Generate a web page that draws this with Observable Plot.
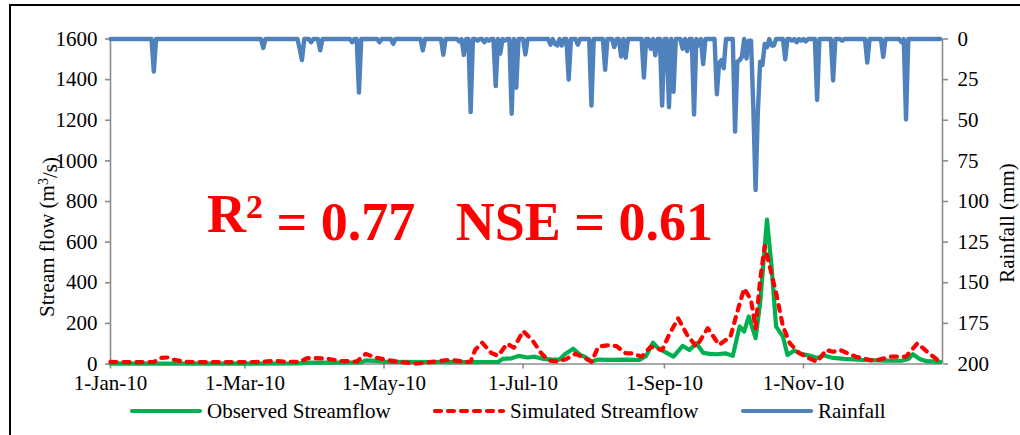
<!DOCTYPE html>
<html>
<head>
<meta charset="utf-8">
<script src="https://cdn.jsdelivr.net/npm/d3@7"></script>
<script src="https://cdn.jsdelivr.net/npm/@observablehq/plot@0.6"></script>
<style>
  html, body { margin: 0; padding: 0; background: #fff; }
  #chart { width: 1020px; height: 435px; }
</style>
</head>
<body>
<div id="chart"></div>
<script>
// Daily hydrology for 2010. Days are counted from 1 January (day 0).

// Observed streamflow (m³/s)
const obsDays = [0, 30, 60, 83, 86, 100, 110, 112, 117, 120, 150, 170, 172, 176, 179, 183, 186, 190, 194, 197,
  199, 203, 206, 208, 211, 214, 220, 226, 232, 235, 238, 240, 243, 247, 251, 254, 257, 260, 263, 266,
  270, 273, 276, 278, 280, 283, 285, 288, 290, 292, 295, 297, 300, 303, 307, 310, 313, 317, 322, 330,
  340, 347, 350, 352, 355, 358, 364];
const obsFlow = [2, 2, 2, 3, 7, 7, 8, 18, 15, 10, 9, 10, 25, 28, 40, 32, 36, 25, 22, 22,
  45, 75, 45, 36, 12, 22, 20, 22, 20, 40, 105, 80, 61, 36, 89, 69, 102, 55, 50, 48,
  52, 40, 185, 160, 234, 127, 300, 711, 480, 184, 135, 44, 66, 50, 40, 30, 42, 30, 25, 20,
  17, 16, 25, 48, 25, 14, 10];

// Simulated streamflow (m³/s)
const simDays = [0, 10, 19, 22, 25, 28, 33, 50, 65, 72, 76, 83, 86, 89, 95, 101, 108, 112, 116, 121,
  127, 134, 140, 148, 151, 156, 158, 160, 163, 167, 170, 174, 177, 181, 185, 189, 192, 196, 200, 204,
  208, 211, 214, 218, 222, 226, 229, 233, 237, 242, 245, 249, 253, 257, 262, 267, 272, 275, 278, 281,
  283, 285, 287, 289, 292, 295, 298, 302, 306, 310, 314, 317, 320, 327, 335, 342, 349, 354, 359, 364];
const simFlow = [10, 9, 10, 30, 32, 20, 10, 9, 10, 15, 12, 10, 28, 30, 26, 15, 12, 50, 33, 20,
  10, 2, 9, 20, 18, 10, 12, 70, 105, 55, 40, 100, 80, 162, 118, 53, 18, 12, 25, 50,
  30, 11, 85, 92, 88, 53, 52, 36, 85, 68, 143, 225, 143, 85, 176, 94, 135, 258, 372, 315,
  176, 415, 580, 490, 350, 185, 102, 55, 30, 11, 69, 60, 69, 36, 15, 36, 36, 102, 53, 10];

// Rainy days (mm); every day not listed is dry
const rainDays = [19, 67, 83, 84, 88, 92, 106, 109, 118, 124, 137, 146, 153, 155, 158, 161, 164, 166, 169, 171,
  173, 176, 178, 182, 193, 195, 196, 198, 201, 205, 211, 217, 221, 224, 226, 234, 237, 239, 242, 245,
  247, 251, 253, 256, 258, 260, 266, 267, 268, 269, 274, 275, 276, 277, 279, 280, 281, 282, 283, 284,
  285, 286, 287, 288, 290, 291, 296, 299, 301, 303, 305, 310, 317, 321, 332, 339, 347, 349];
const rainMm = [20, 5.5, 6, 13, 2, 7, 2, 33, 2, 3, 7, 9.7, 1.5, 9.8, 45, 1, 2, 1, 29, 9,
  1, 46, 30, 9.5, 3.5, 3, 4, 4, 25, 3.5, 41, 19, 5, 10.8, 11.5, 23.7, 6, 10, 41, 42,
  32.5, 6, 7.5, 46.5, 4, 15.4, 34, 15, 13, 18, 57, 14, 13, 11, 12, 1, 1, 42, 93, 45,
  14, 16, 3, 5, 4, 4, 12.5, 1, 2, 1, 1.5, 37.5, 25.5, 1, 14.5, 11, 2, 49.5];

// Axis ticks
const dateTicks = ["2010-01-01", "2010-03-01", "2010-05-01", "2010-07-01", "2010-09-01", "2010-11-01"];
const dateTickLabels = ["1-Jan-10", "1-Mar-10", "1-May-10", "1-Jul-10", "1-Sep-10", "1-Nov-10"];
const flowTicks = [0, 200, 400, 600, 800, 1000, 1200, 1400, 1600];
const rainTicks = [0, 25, 50, 75, 100, 125, 150, 175, 200];

// ---- build tables ----
const dayToDate = d => new Date(Date.UTC(2010, 0, 1 + d));
const observed = obsDays.map((d, i) => ({date: dayToDate(d), flow: obsFlow[i]}));
const simulated = simDays.map((d, i) => ({date: dayToDate(d), flow: simFlow[i]}));
const rainByDay = new Map(rainDays.map((d, i) => [d, rainMm[i]]));
const rainfall = d3.range(0, 365).map(d => ({date: dayToDate(d), mm: rainByDay.get(d) ?? 0}));

// Rainfall is hung from the top on an inverted secondary axis (0 at top, 200 at bottom)
const flowMax = 1600, rainMax = 200;
const rainToFlow = mm => flowMax - mm * (flowMax / rainMax);
const rainTickPos = rainTicks.map(rainToFlow);

const tickDates = dateTicks.map(s => new Date(s + "T00:00:00Z"));
const tickLabelOf = new Map(tickDates.map((d, i) => [+d, dateTickLabels[i]]));

const axisGray = "#8c8c8c";
const serif = "'Liberation Serif', 'Times New Roman', serif";
const x0 = new Date(Date.UTC(2010, 0, 1)), x1 = new Date(Date.UTC(2011, 0, 1));

const chart = Plot.plot({
  width: 1020,
  height: 435,
  marginLeft: 110,
  marginRight: 78,
  marginTop: 38.5,
  marginBottom: 71.5,
  style: {fontFamily: serif, fontSize: "21px", background: "#fff", color: "#000", overflow: "visible"},
  x: {type: "utc", domain: [x0, x1]},
  y: {domain: [0, flowMax]},
  marks: [
    // axis lines
    Plot.ruleY([0], {stroke: axisGray, strokeWidth: 1.6}),
    Plot.ruleX([x0], {y1: 0, y2: flowMax, stroke: axisGray, strokeWidth: 1.6}),
    Plot.ruleX([x1], {y1: 0, y2: flowMax, stroke: axisGray, strokeWidth: 1.6}),
    // axes
    Plot.axisY(flowTicks, {anchor: "left", tickSize: 5, tickPadding: 8, stroke: axisGray, strokeWidth: 1.6,
      fill: "#000", label: null, tickFormat: d => String(d)}),
    Plot.axisY(rainTickPos, {anchor: "right", tickSize: 5, tickPadding: 10, stroke: axisGray, strokeWidth: 1.6,
      fill: "#000", label: null, tickFormat: (d, i) => String(rainTicks[i])}),
    Plot.axisX(tickDates, {anchor: "bottom", tickSize: 5, tickPadding: 6, stroke: axisGray, strokeWidth: 1.6,
      fill: "#000", label: null, tickFormat: d => tickLabelOf.get(+d)}),
    // series
    Plot.line(observed, {x: "date", y: "flow", stroke: "#00B050", strokeWidth: 4.2,
      strokeLinejoin: "round", strokeLinecap: "round"}),
    Plot.line(simulated, {x: "date", y: "flow", stroke: "#FF0000", strokeWidth: 4.2,
      strokeDasharray: "6,7", strokeLinejoin: "round", strokeLinecap: "round"}),
    Plot.line(rainfall, {x: "date", y: d => rainToFlow(d.mm), stroke: "#4F81BD", strokeWidth: 4.4,
      strokeLinejoin: "round", strokeLinecap: "round"})
  ]
});

document.getElementById("chart").appendChild(chart);

// ---- titles, model scores, legend and frame ----
const svg = d3.select(chart);

svg.append("text")
  .attr("transform", "translate(54,237) rotate(-90)")
  .attr("text-anchor", "middle")
  .style("font-family", serif).style("font-size", "21px").attr("fill", "#000")
  .call(t => {
    t.append("tspan").text("Stream flow (m");
    t.append("tspan").attr("dy", "-0.45em").style("font-size", "14px").text("3");
    t.append("tspan").attr("dy", "0.45em").text("/s)");
  });

svg.append("text")
  .attr("transform", "translate(1014,223) rotate(-90)")
  .attr("text-anchor", "middle")
  .style("font-family", serif).style("font-size", "21px").attr("fill", "#000")
  .text("Rainfall (mm)");

svg.append("text")
  .attr("x", 207).attr("y", 232)
  .attr("text-anchor", "start")
  .attr("xml:space", "preserve")
  .style("white-space", "pre")
  .style("font-family", serif).style("font-size", "54px").style("font-weight", "bold")
  .attr("fill", "#FF0000")
  .call(t => {
    t.append("tspan").text("R");
    t.append("tspan").attr("dy", "-0.42em").style("font-size", "34px").text("2");
    t.append("tspan").attr("dy", "0.42em").text(" = 0.77   NSE = 0.61");
  });

const legendItems = [
  {label: "Observed Streamflow", color: "#00B050", dash: null, x: 132},
  {label: "Simulated Streamflow", color: "#FF0000", dash: "6,7", x: 435},
  {label: "Rainfall", color: "#4F81BD", dash: null, x: 743}
];
const legendY = 411;
const legend = svg.append("g").attr("text-anchor", "start");
legendItems.forEach(item => {
  legend.append("line")
    .attr("x1", item.x).attr("x2", item.x + 68)
    .attr("y1", legendY).attr("y2", legendY)
    .attr("stroke", item.color).attr("stroke-width", 4.2)
    .attr("stroke-linecap", "round")
    .attr("stroke-dasharray", item.dash);
  legend.append("text")
    .attr("x", item.x + 75).attr("y", legendY + 7)
    .attr("text-anchor", "start")
    .style("font-family", serif).style("font-size", "21px").attr("fill", "#000")
    .text(item.label);
});

// figure frame (left and top edges)
svg.append("path")
  .attr("d", "M10,435 V5 H1020")
  .attr("fill", "none").attr("stroke", "#000").attr("stroke-width", 2);
</script>
</body>
</html>
